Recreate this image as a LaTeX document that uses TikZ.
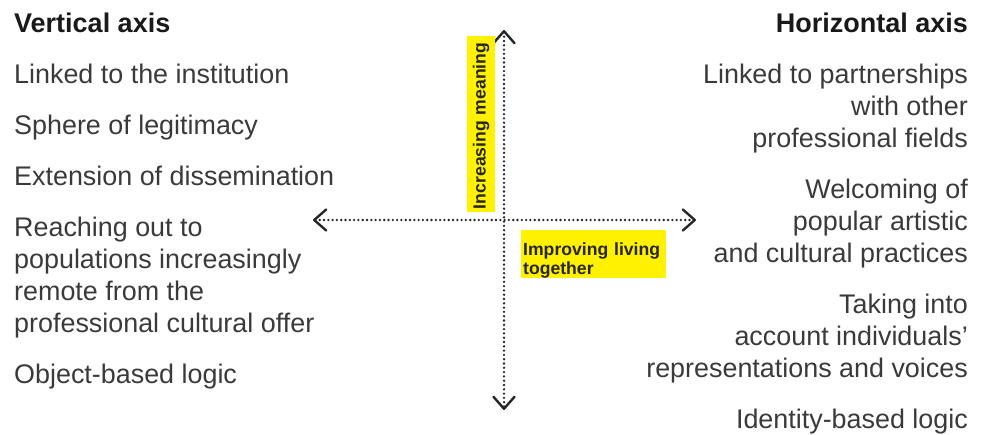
\documentclass[tikz,border=0pt]{standalone}
\usepackage{fontspec}
\setmainfont{Liberation Sans}
\usetikzlibrary{arrows.meta}
\definecolor{textgrey}{HTML}{3A3A3A}
\definecolor{marker}{HTML}{FFF100}

\begin{document}
\begin{tikzpicture}
        [
            x=1pt, y=-1pt,
            item/.style={text=textgrey, inner sep=0pt, font=\fontsize{26.9}{32}\selectfont},
            leftitem/.style={item, anchor=base west, align=left},
            rightitem/.style={item, anchor=base east, align=right},
            heading/.style={text=black!90, inner sep=0pt, font=\fontsize{27}{32}\selectfont\bfseries},
            highlight/.style={fill=marker, text=black!85, font=\fontsize{17.6}{19}\selectfont\bfseries},
            barb/.style={Straight Barb[length=12pt, width=21pt, line width=2.4pt, round]},
            axis/.style={draw=black!85, line width=2.6pt, line cap=round, dash pattern=on 0pt off 4.3pt,
                arrows={Straight Barb[length=12pt, width=21pt, line width=2.4pt, round]-Straight Barb[length=12pt, width=21pt, line width=2.4pt, round]}}
        ]
        \useasboundingbox (0,0) rectangle (981,434);

        % left column (multi-line nodes sit on their last baseline)
        \node[heading, anchor=base west] (vaxis) at (14,32) {Vertical axis};
        \node[leftitem] (inst) at (14,83) {Linked to the institution};
        \node[leftitem] (legit) at (14,134) {Sphere of legitimacy};
        \node[leftitem] (dissem) at (14,185) {Extension of dissemination};
        \node[leftitem] (reach) at (14,332) {Reaching out to\\populations increasingly\\remote from the\\professional cultural offer};
        \node[leftitem] (object) at (14,383) {Object-based logic};

        % right column
        \node[heading, anchor=base east] (haxis) at (968,32) {Horizontal axis};
        \node[rightitem] (partner) at (968,147) {Linked to partnerships\\with other\\professional fields};
        \node[rightitem] (welcome) at (968,262) {Welcoming of\\popular artistic\\and cultural practices};
        \node[rightitem] (account) at (968,377) {Taking into\\account individuals’\\representations and voices};
        \node[rightitem] (identity) at (968,428) {Identity-based logic};

        % axes
        \coordinate (top) at (504,30);
        \coordinate (bottom) at (504,410);
        \coordinate (left) at (313,220);
        \coordinate (right) at (696,220);
        \draw[axis] (left) -- (right);
        \draw[axis] (top) -- (bottom);

        \node[highlight, rotate=90, text width=170pt, inner xsep=3pt, align=left, minimum height=28pt] (meaning) at (481,124) {Increasing meaning};
        \node[highlight, anchor=north west, text width=141pt, inner xsep=2pt, inner ysep=0.5pt, align=left] (living) at (521,230) {\rule{0pt}{24.5pt}Improving living\\together};
    \end{tikzpicture}
\end{document}
